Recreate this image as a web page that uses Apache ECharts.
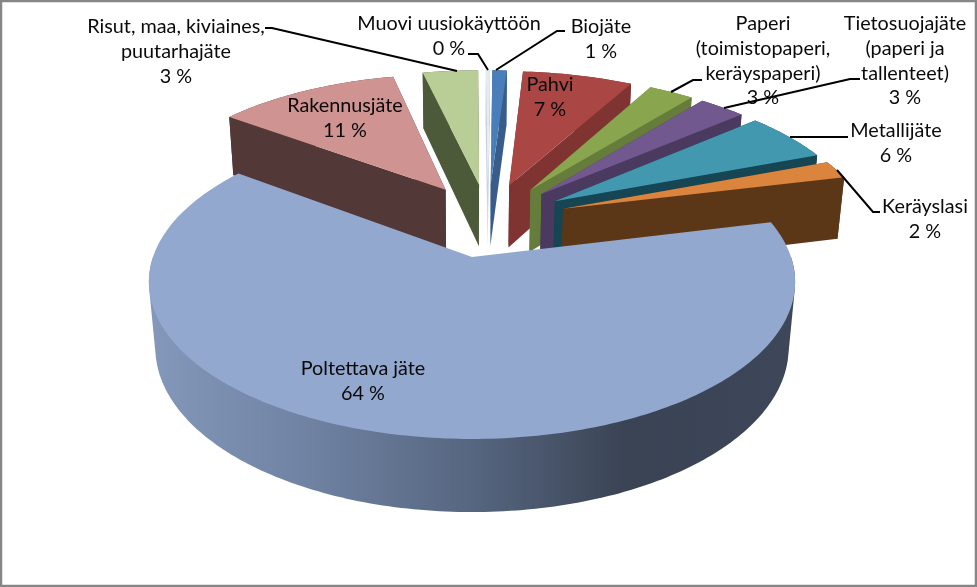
<!DOCTYPE html>
<html>
<head>
<meta charset="utf-8">
<style>html,body{margin:0;padding:0;background:#fff}#c{width:977px;height:587px}</style>
<script src="https://cdn.jsdelivr.net/npm/echarts@6/dist/echarts.min.js"></script>
</head>
<body>
<div id="c"></div>
<script>
// Clockwise from the top of the pie
const categories = ['Muovi uusiokäyttöön','Biojäte','Pahvi','Paperi (toimistopaperi, keräyspaperi)','Tietosuojajäte (paperi ja tallenteet)','Metallijäte','Keräyslasi','Poltettava jäte','Rakennusjäte','Risut, maa, kiviaines, puutarhajäte'];
const values = [0.25, 0.9, 6.86, 2.8, 2.9, 5.5, 2.0, 64, 11.35, 3.45];
const percentLabels = ['0 %','1 %','7 %','3 %','3 %','6 %','2 %','64 %','11 %','3 %'];
const labelLines = [['Muovi uusiokäyttöön'],['Biojäte'],['Pahvi'],['Paperi','(toimistopaperi,','keräyspaperi)'],['Tietosuojajäte','(paperi ja','tallenteet)'],['Metallijäte'],['Keräyslasi'],['Poltettava jäte'],['Rakennusjäte'],['Risut, maa, kiviaines,','puutarhajäte']];
const topColors = ['#e4ebf4','#4a7ebb','#aa4643','#89a54e','#71588f','#4198af','#db843d','#92a8cf','#cf9392','#b9cd96'];
const wallColors = ['#c5d0e0','#385d8a','#7f3432','#667c3a','#4b3a60','#164553','#5c3717','#3a4354','#533838','#4d5a39'];
const mainWallStops = [[0,'#8498bb'],[0.25,'#6f82a2'],[0.5,'#566680'],[0.74,'#3a4354'],[1,'#3e4759']];
const drawOrder = [9,0,1,2,3,4,5,6,8,7];
const labelX = [449,601,550,763,905,896,925,363,345,176];
const labelY = [24,27,85,24,24,131,207,369,106,27];
const lineHeight = 24.7;
const leaders = [
  [[488,70],[478,54],[468,54]],
  [[496,70],[557,31],[565,31]],
  [[671,92],[693,80],[702,80]],
  [[724,108],[850,79],[860,79]],
  [[790,137],[848,137]],
  [[837,170],[873,212],[880,212]],
  [[457,71],[272,28],[265,28]]
];
// Projection of the tilted pie
const ox=472, oy=257, A=319, B=153, K=0.159, DEPTH=66.6, SHRINK=0.02, EXPLODE=0.26, START=0;

const total = values.reduce((a,b)=>a+b,0);
const slices=[]; let acc=START;
values.forEach(v=>{const span=v/total*360; slices.push([acc,acc+span]); acc+=span;});
const rad=d=>d*Math.PI/180;
const midMain=(slices[7][0]+slices[7][1])/2;
const gx=-EXPLODE*Math.sin(rad(midMain)), gy=-EXPLODE*Math.cos(rad(midMain));
function project(u,v,bottom){
  const w=1+K*v+(bottom?SHRINK:0);
  return [ox+A*u/w, oy-B*v/w+(bottom?DEPTH/w:0)];
}
function hull(points){
  const p=points.slice().sort((a,b)=>a[0]-b[0]||a[1]-b[1]);
  const cross=(o,a,b)=>(a[0]-o[0])*(b[1]-o[1])-(a[1]-o[1])*(b[0]-o[0]);
  const lo=[],up=[];
  p.forEach(q=>{while(lo.length>1&&cross(lo[lo.length-2],lo[lo.length-1],q)<=0)lo.pop();lo.push(q);});
  p.slice().reverse().forEach(q=>{while(up.length>1&&cross(up[up.length-2],up[up.length-1],q)<=0)up.pop();up.push(q);});
  return lo.slice(0,-1).concat(up.slice(0,-1));
}
function geometry(i){
  const [a,b]=slices[i], mid=(a+b)/2;
  const cu=gx+EXPLODE*Math.sin(rad(mid)), cv=gy+EXPLODE*Math.cos(rad(mid));
  const rim=[]; const n=Math.max(2,Math.ceil(b-a));
  for(let t=0;t<=n;t++){const d=a+(b-a)*t/n; rim.push([cu+Math.sin(rad(d)),cv+Math.cos(rad(d))]);}
  return {c:[cu,cv],rim};
}
function renderItem(params,api){
  const i=api.value(0), g=geometry(i), children=[];
  const top=[project(g.c[0],g.c[1],false),...g.rim.map(p=>project(p[0],p[1],false))];
  const apexB=project(g.c[0],g.c[1],true), first=g.rim[0], last=g.rim[g.rim.length-1];
  const wall=(pts,fill)=>children.push({type:'polygon',shape:{points:pts},style:{fill}});
  if(i!==7){
    wall([top[0],top[1],project(first[0],first[1],true),apexB],wallColors[i]);
    wall([top[0],top[top.length-1],project(last[0],last[1],true),apexB],wallColors[i]);
    wall(g.rim.map(p=>project(p[0],p[1],false)).concat(g.rim.map(p=>project(p[0],p[1],true)).reverse()),wallColors[i]);
  } else {
    const front=g.rim.filter(p=>p[1]<0);
    const pts=front.map(p=>project(p[0],p[1],false)).concat(front.map(p=>project(p[0],p[1],true)));
    wall(hull(pts),{type:'linear',x:0,y:0,x2:1,y2:0,colorStops:mainWallStops.map(s=>({offset:s[0],color:s[1]}))});
  }
  wall(top,topColors[i]);
  return {type:'group',children};
}
function renderLabels(params,api){
  const i=api.value(0);
  const lines=labelLines[i].concat([percentLabels[i]]);
  return {type:'group',children:lines.map((t,k)=>({type:'text',x:labelX[i],y:labelY[i]+k*lineHeight,
    style:{text:t,align:'center',verticalAlign:'middle',fill:'#0a0a0a',font:'19.8px Lato'}}))};
}
const chart=echarts.init(document.getElementById('c'),null,{renderer:'canvas'});
chart.setOption({
  animation:false,
  backgroundColor:'#ffffff',
  tooltip:{show:false},
  graphic:[{type:'rect',z:100,shape:{x:1,y:1,width:975,height:585},style:{fill:'none',stroke:'#868686',lineWidth:2.5},silent:true}],
  series:[
    {type:'custom',coordinateSystem:'none',z:2,renderItem,silent:true,
     data:drawOrder.map(i=>({name:categories[i],value:[i,values[i]]}))},
    {type:'custom',coordinateSystem:'none',z:3,renderItem:renderLabels,silent:true,
     data:categories.map((c,i)=>({name:c,value:[i,values[i]]}))},
    {type:'custom',coordinateSystem:'none',z:4,silent:true,
     renderItem:(p,api)=>{const l=leaders[api.value(0)];
       return {type:'polyline',shape:{points:l},style:{stroke:'#000',lineWidth:2,fill:'none'}};},
     data:leaders.map((l,i)=>[i])}
  ]
});
</script>
</body>
</html>
